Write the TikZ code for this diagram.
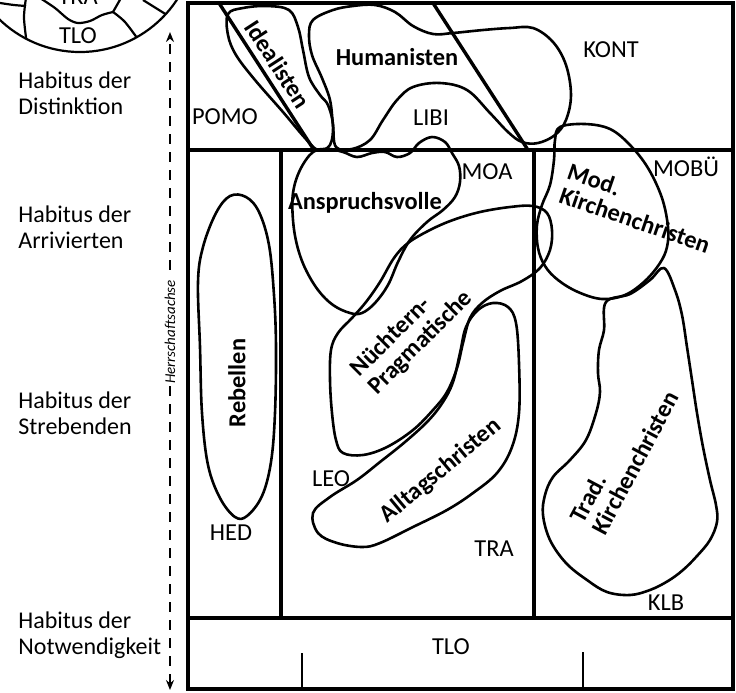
\documentclass[tikz,border=0pt]{standalone}
\usepackage{fontspec}
\setmainfont{Carlito}
\usetikzlibrary{arrows.meta}
\tikzset{
  frm/.style={line width=2pt},
  diag/.style={line width=1.7pt},
  milieu/.style={line width=1.3pt,line join=round},
  circ/.style={line width=1.1pt},
  tick/.style={line width=0.6pt},
  axis/.style={line width=0.9pt,dash pattern=on 5pt off 4pt,{Stealth[length=5pt,width=4pt]}-{Stealth[length=5pt,width=4pt]}},
  grp/.style={font=\fontsize{12.2}{12.5}\selectfont\bfseries,inner sep=0pt,align=left},
  sml/.style={font=\fontsize{12.2}{12.5}\selectfont,inner sep=0pt},
  hab/.style={font=\fontsize{12}{12.8}\selectfont,inner sep=0pt,align=left,anchor=west},
}

\begin{document}
\begin{tikzpicture}[x=0.5pt,y=-0.5pt]
  \useasboundingbox (0,0) rectangle (736,693);
  \clip (0,0) rectangle (736,693);

  % Kreisausschnitt oben links
  \draw[circ] (80,-64) circle[radius=116];
  \begin{scope}
    \clip (80,-64) circle[radius=116];
    \draw[circ] plot[smooth] coordinates {(0,3) (14,5) (26,6)};
    \draw[circ] plot[smooth] coordinates {(26,-2) (24,18) (27,45)};
    \draw[circ] plot[smooth] coordinates {(40,-2) (55,8) (68,19) (78,23) (90,21) (102,15) (113,12)};
    \draw[circ] (113,12) -- (121,-2);
    \draw[circ] plot[smooth] coordinates {(113,12) (125,22) (140,42)};
    \draw[circ] (143,0) -- (175,20);
  \end{scope}
  \node[sml] (tra0) at (78,-3) {TRA};
  \node[sml] (tlo0) at (78,36) {TLO};

  % Herrschaftsachse
  \coordinate (axtop) at (170,32);
  \coordinate (axbot) at (170,690);
  \draw[axis] (axbot) -- (axtop);
  \node[font=\fontsize{7.5}{8}\selectfont\itshape,fill=white,inner sep=1pt,rotate=90] (achse) at (170,332) {Herrschaftsachse};

  % Habitus
  \node[hab] (distinktion) at (18,93) {Habitus der\\Distinktion};
  \node[hab] (arrivierte) at (18,227) {Habitus der\\Arrivierten};
  \node[hab] (strebende) at (18,413) {Habitus der\\Strebenden};
  \node[hab] (notwendig) at (18,635) {Habitus der\\Notwendigkeit};

  % Raster
  \draw[frm] (188,3) rectangle (733,689);
  \draw[frm] (188,150) -- (733,150);
  \draw[frm] (188,618) -- (733,618);
  \draw[frm] (281,150) -- (281,618);
  \draw[frm] (534,150) -- (534,618);
  \draw[diag] (219,3) -- (314,150);
  \draw[diag] (433,3) -- (528,150);
  \draw[tick] (302,653) -- (302,689);
  \draw[tick] (583,652) -- (583,689);

  % Milieus
  \draw[milieu] plot[smooth cycle,tension=0.6] coordinates {(228,14) (243,8) (267,6) (289,10) (298,27) (303,50) (309,77) (320,95) (328,105) (333,125) (330,145) (318,150) (305,138) (283,112) (255,80) (236,55) (228,35)};
  \draw[milieu] plot[smooth cycle,tension=0.6] coordinates {(313,20) (333,10) (353,6) (375,5) (395,12) (413,26) (433,34) (453,33) (483,30) (510,28) (533,28) (553,42) (566,65) (571,95) (566,120) (555,135) (538,143) (522,142) (508,132) (490,113) (467,90) (440,83) (413,87) (397,100) (383,120) (370,140) (352,149) (336,147) (333,125) (330,100) (322,78) (312,55) (309,35)};
  \draw[milieu] plot[smooth cycle,tension=0.6] coordinates {(313,152) (300,170) (293,193) (293,220) (297,245) (305,268) (318,290) (333,305) (350,313) (362,313) (375,303) (388,285) (398,262) (410,240) (427,222) (443,210) (455,197) (460,182) (459,166) (452,153) (445,142) (432,137) (419,143) (410,153) (397,157) (385,152) (372,153) (357,157) (343,152) (328,149)};
  \draw[milieu] plot[smooth cycle,tension=0.6] coordinates {(352,318) (338,333) (331,350) (330,380) (332,413) (336,440) (343,453) (363,455) (387,447) (413,430) (433,410) (447,392) (457,368) (463,343) (470,318) (482,303) (500,291) (522,281) (540,268) (550,250) (552,230) (547,213) (533,206) (510,207) (480,212) (453,220) (430,230) (408,243) (394,258) (380,282) (366,302)};
  \draw[milieu] plot[smooth cycle,tension=0.6] coordinates {(493,303) (508,307) (516,323) (519,363) (519,413) (512,447) (497,473) (473,493) (447,510) (413,527) (380,543) (362,547) (337,543) (318,533) (313,513) (330,497) (357,480) (380,462) (405,442) (428,421) (443,402) (453,382) (460,353) (466,327) (478,310)};
  \draw[milieu] plot[smooth cycle,tension=0.6] coordinates {(560,127) (585,124) (610,129) (630,145) (648,168) (662,198) (668,227) (667,247) (660,263) (645,281) (625,295) (602,299) (578,292) (558,280) (545,266) (538,248) (537,225) (542,205) (550,185) (554,160) (555,140)};
  \draw[milieu] plot[smooth cycle,tension=0.6] coordinates {(606,302) (604,330) (599,350) (598,373) (600,392) (596,413) (586,440) (570,460) (553,477) (545,495) (543,515) (550,540) (566,563) (587,580) (607,592) (630,595) (650,590) (668,581) (683,570) (697,556) (710,540) (717,522) (716,505) (710,480) (703,447) (697,413) (692,380) (687,347) (682,315) (675,290) (664,268) (650,280) (630,294)};
  \draw[milieu] plot[smooth cycle,tension=0.6] coordinates {(230,196) (246,197) (259,212) (269,245) (274,295) (276,347) (275,413) (271,462) (262,496) (247,516) (235,517) (220,498) (208,465) (202,413) (200,347) (198,282) (203,247) (216,213)};

  % Gruppen
  \node[grp,rotate=-57] (idealisten) at (278,64) {Idealisten};
  \node[grp] (humanisten) at (397,57) {Humanisten};
  \node[grp] (anspruch) at (365,203) {Anspruchsvolle};
  \node[grp,rotate=-19] (modkirche) at (639,208) {Mod.\\Kirchenchristen};
  \node[grp,rotate=90] (rebellen) at (237,383) {Rebellen};
  \node[grp,rotate=45] (nuechtern) at (412,334) {Nüchtern-\\Pragmatische};
  \node[grp,rotate=40] (alltag) at (441,471) {Alltagschristen};
  \node[grp,rotate=62] (tradkirche) at (624,457) {Trad.\\Kirchenchristen};

  % Sinus-Milieus
  \node[sml] (pomo) at (225,117) {POMO};
  \node[sml] (libi) at (431,118) {LIBI};
  \node[sml] (kont) at (611,50) {KONT};
  \node[sml] (moa) at (487,172) {MOA};
  \node[sml] (mobue) at (686,167) {MOBÜ};
  \node[sml] (leo) at (331,479) {LEO};
  \node[sml] (tra) at (494,549) {TRA};
  \node[sml] (klb) at (666,603) {KLB};
  \node[sml] (hed) at (231,533) {HED};
  \node[sml] (tlo) at (451,647) {TLO};
\end{tikzpicture}
\end{document}
